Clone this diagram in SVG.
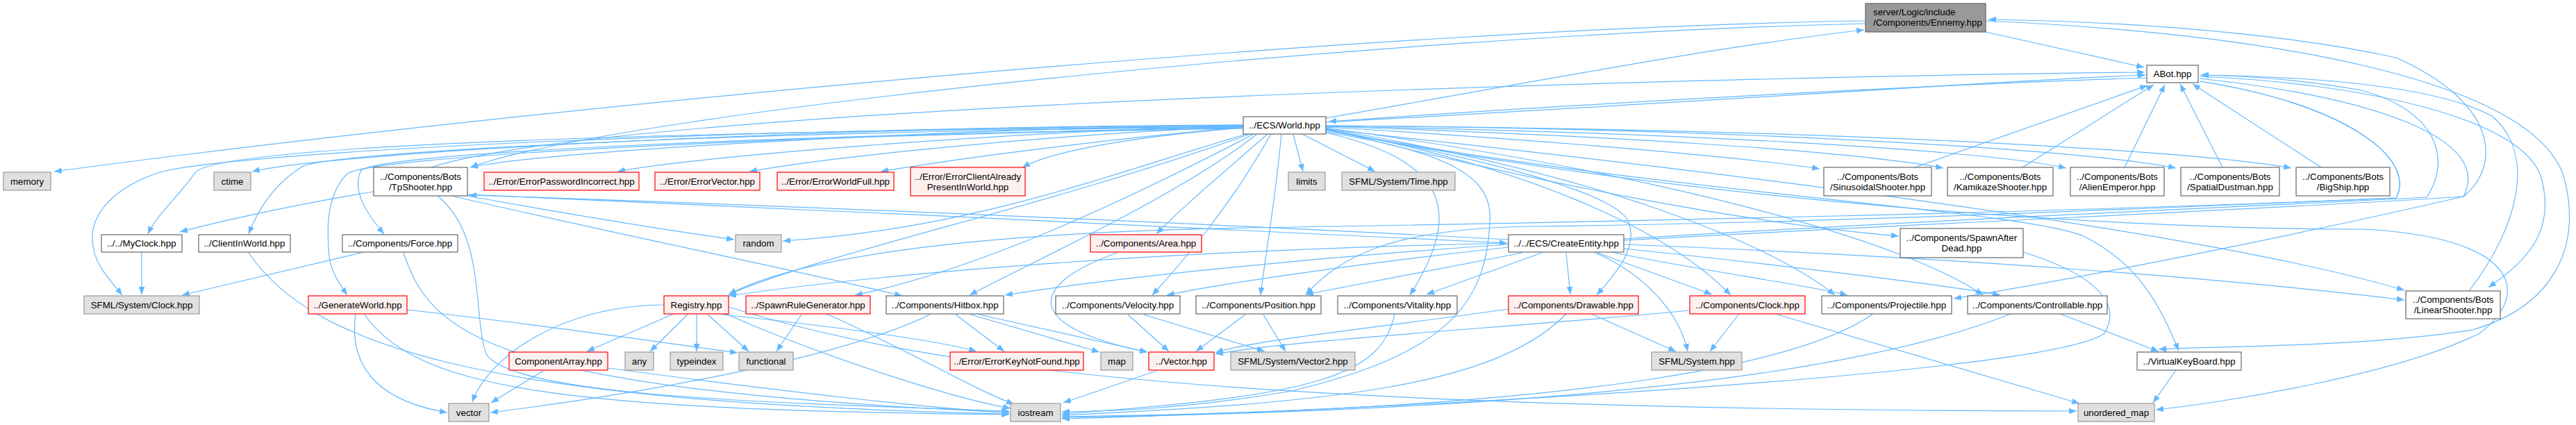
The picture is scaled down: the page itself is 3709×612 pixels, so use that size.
<svg xmlns="http://www.w3.org/2000/svg" width="3709" height="612" viewBox="0 0 3709 612">
<defs>
<marker id="ah" viewBox="0 0 10 8" refX="10" refY="4" markerWidth="11" markerHeight="9" markerUnits="userSpaceOnUse" orient="auto"><path d="M0,0 L10,4 L0,8 Z" fill="#63b8ff"/></marker>
<style>
.e path{fill:none;stroke:#63b8ff;stroke-width:1.2;marker-end:url(#ah)}
.w rect{fill:#fff;stroke:#666;stroke-width:1.2}
.g rect{fill:#e0e0e0;stroke:#999;stroke-width:1.2}
.r rect{fill:#fff0f0;stroke:#f00;stroke-width:1.2}
.root rect{fill:#999;stroke:#666;stroke-width:1.2}
text{font-family:"Liberation Sans",Arial,sans-serif;font-size:13.33px;fill:#000;text-anchor:middle}
.root text{text-anchor:start}
</style>
</defs>
<rect width="3709" height="612" fill="#fff"/>
<g id="connectors" class="e">
<path d="M2859,46 L3087,97"/>
<path d="M2686,30 C2000,40 800,150 78,247"/>
<path d="M2686,34 C2000,50 900,160 677,241"/>
<path d="M1909,170 C2200,120 2450,70 2684,43"/>
<path d="M1909,176 C2400,150 2900,115 3089,108"/>
<path d="M3091,112 C2700,125 2200,155 1913,175"/>
<path d="M2757,241 L3092,123"/>
<path d="M2912,241 L3101,122"/>
<path d="M3059,241 L3117,122"/>
<path d="M3200,241 L3139,121"/>
<path d="M3342,241 L3157,121"/>
<path d="M620,241 C900,150 2500,110 3088,104"/>
<path d="M3555,419 C3630,320 3650,220 3588,167 C3500,120 3300,110 3169,108"/>
<path d="M3167,110 C3400,120 3640,170 3660,260 C3680,340 3630,380 3583,414"/>
<path d="M2338,346 C2800,320 3300,300 3547,283 C3600,240 3600,150 3450,83 C3250,40 3000,30 2863,28"/>
<path d="M2338,344 C2800,315 3300,295 3494,284 C3530,230 3510,160 3400,130 C3300,112 3220,109 3169,108"/>
<path d="M2859,30 C3300,50 3640,120 3690,250 C3720,350 3680,440 3560,475 C3400,500 3200,498 3108,503"/>
<path d="M3167,113 C3420,140 3590,200 3547,283 C3300,340 3000,400 2813,430"/>
<path d="M3167,117 C3380,150 3480,230 3450,285 C3100,300 2600,322 2200,326 C2000,330 1930,370 1880,424"/>
<path d="M3167,117 C3380,150 3480,230 3450,285 C3000,305 2300,320 1800,328 C1400,335 1150,370 1049,424"/>
<path d="M1790,184 C1650,195 1520,215 1472,241"/>
<path d="M1790,183 C1600,200 1400,225 1268,247"/>
<path d="M1790,182 C1500,195 1200,225 1079,247"/>
<path d="M1790,181 C1450,190 1000,225 889,247"/>
<path d="M1790,180 C1400,185 800,215 677,241"/>
<path d="M1790,180 C1300,180 500,215 363,247"/>
<path d="M1790,182 C900,190 300,210 280,250 C255,285 225,310 213,337"/>
<path d="M1790,183 C1000,190 470,220 435,240 C395,265 372,300 358,337"/>
<path d="M1790,181 C1000,185 330,220 230,248 C150,275 125,320 135,360 C140,385 160,405 176,425"/>
<path d="M1790,184 C1100,195 560,220 520,245 C505,275 530,310 553,337"/>
<path d="M1790,185 C1100,195 540,225 500,250 C470,280 470,330 474,370 C478,395 490,410 500,425"/>
<path d="M1795,193 C1600,250 1400,330 1127,347"/>
<path d="M1800,193 C1500,300 1200,360 1049,424"/>
<path d="M1805,193 C1600,300 1400,390 1231,425"/>
<path d="M1810,193 C1700,280 1500,370 1396,425"/>
<path d="M1825,193 C1760,250 1700,300 1665,337"/>
<path d="M1830,193 C1770,300 1700,380 1659,425"/>
<path d="M1845,193 C1835,300 1820,380 1815,425"/>
<path d="M1862,193 L1876,247"/>
<path d="M1875,193 L1980,247"/>
<path d="M1905,190 C2080,230 2110,300 2030,425"/>
<path d="M1907,190 C2100,220 2150,260 2145,320 C2140,440 2080,510 1860,563 C1700,590 1600,592 1529,593"/>
<path d="M1907,187 C2150,230 2330,280 2345,320 C2360,360 2320,400 2299,425"/>
<path d="M1908,186 C2200,240 2400,330 2492,425"/>
<path d="M1908,185 C2300,250 2550,350 2642,425"/>
<path d="M1908,184 C2400,250 2750,350 2855,425"/>
<path d="M1908,185 C2200,260 2500,320 2734,340"/>
<path d="M1909,183 C2200,200 2500,225 2620,243"/>
<path d="M1909,182 C2300,195 2650,215 2798,242"/>
<path d="M1909,182 C2400,190 2850,215 2975,242"/>
<path d="M1909,181 C2500,185 3000,215 3133,242"/>
<path d="M1909,181 C2600,185 3150,215 3299,242"/>
<path d="M1909,186 C2600,260 3200,340 3462,418"/>
<path d="M1909,188 C2500,300 3100,330 3400,330 C3620,340 3650,420 3570,480 C3450,540 3200,580 3104,590"/>
<path d="M1909,187 C2400,280 2900,300 3000,340 C3080,380 3110,440 3137,505"/>
<path d="M538,276 C450,290 330,315 259,334"/>
<path d="M673,282 C800,305 950,330 1057,345"/>
<path d="M650,282 C900,340 1150,390 1299,426"/>
<path d="M673,280 C1100,300 1800,330 2170,350"/>
<path d="M2172,345 C1700,320 1100,295 675,281"/>
<path d="M630,282 C700,340 680,450 700,510 C740,570 1100,580 1453,592"/>
<path d="M524,363 L262,425"/>
<path d="M581,364 C620,480 700,560 1453,594"/>
<path d="M204,363 L204,424"/>
<path d="M358,364 C450,500 700,580 1453,596"/>
<path d="M512,452 C500,540 560,580 644,594"/>
<path d="M524,452 C600,560 800,590 1453,597"/>
<path d="M586,446 C800,470 1000,500 1062,508"/>
<path d="M956,439 C800,440 700,520 680,579"/>
<path d="M970,452 L845,506"/>
<path d="M990,453 L936,506"/>
<path d="M1003,453 L1003,506"/>
<path d="M1019,453 L1078,506"/>
<path d="M1040,453 C1200,470 1350,490 1406,506"/>
<path d="M1045,452 C1200,520 1380,575 1455,588"/>
<path d="M1049,442 C1300,520 1700,590 2990,592"/>
<path d="M782,534 L707,580"/>
<path d="M875,530 C1100,560 1350,590 1453,594"/>
<path d="M1154,453 L1118,506"/>
<path d="M1190,452 C1300,500 1400,560 1460,582"/>
<path d="M1376,453 L1446,506"/>
<path d="M1398,453 L1583,507"/>
<path d="M1410,453 L1652,507"/>
<path d="M1339,453 C1200,520 900,570 706,594"/>
<path d="M1608,364 C1480,410 1470,470 1652,507"/>
<path d="M1624,453 L1683,506"/>
<path d="M1647,453 L1821,506"/>
<path d="M1793,453 L1722,506"/>
<path d="M1819,453 L1851,506"/>
<path d="M1665,534 L1531,580"/>
<path d="M2008,452 C1990,540 1900,570 1529,596"/>
<path d="M2293,453 L2413,506"/>
<path d="M2255,452 C2150,560 1900,580 1529,598"/>
<path d="M2172,445 C2000,470 1800,490 1750,508"/>
<path d="M2433,447 C2200,470 1850,490 1750,510"/>
<path d="M2504,452 L2462,506"/>
<path d="M2559,453 L2994,581"/>
<path d="M2295,363 C2380,400 2420,460 2430,506"/>
<path d="M2255,364 L2261,424"/>
<path d="M2220,364 L2054,424"/>
<path d="M2192,364 L1880,424"/>
<path d="M2300,364 L2465,424"/>
<path d="M2320,363 C2450,390 2600,410 2660,425"/>
<path d="M2338,358 C2550,380 2800,410 2880,425"/>
<path d="M2172,356 C1950,380 1750,410 1680,425"/>
<path d="M2172,352 C1900,370 1600,400 1447,425"/>
<path d="M2172,350 C1700,360 1300,390 1049,426"/>
<path d="M2338,352 C2800,370 3200,400 3462,432"/>
<path d="M2697,452 C2600,520 2300,590 1529,600"/>
<path d="M2895,452 C2700,530 2300,590 1529,601"/>
<path d="M2966,452 L3108,506"/>
<path d="M2913,363 C3000,390 3060,430 3030,480 C2950,540 2000,590 1529,603"/>
<path d="M3133,533 L3100,580"/>
</g>
<g id="n_ennemy" class="root"><rect x="2686" y="5" width="173" height="41"/><text x="2697" y="22">server/Logic/include</text><text x="2697" y="37">/Components/Ennemy.hpp</text></g>
<g id="n_abot" class="w"><rect x="3091" y="94" width="74" height="25"/><text x="3128" y="111">ABot.hpp</text></g>
<g id="n_world" class="w"><rect x="1790" y="168" width="119" height="25"/><text x="1849.5" y="185">../ECS/World.hpp</text></g>
<g id="n_memory" class="g"><rect x="5" y="248" width="68" height="26"/><text x="39" y="265.5">memory</text></g>
<g id="n_ctime" class="g"><rect x="308" y="248" width="53" height="26"/><text x="334.5" y="265.5">ctime</text></g>
<g id="n_tpshooter" class="w"><rect x="538" y="241" width="135" height="41"/><text x="605.5" y="258.5">../Components/Bots</text><text x="605.5" y="273.5">/TpShooter.hpp</text></g>
<g id="n_errpwd" class="r"><rect x="697" y="248" width="223" height="26"/><text x="808.5" y="265.5">../Error/ErrorPasswordIncorrect.hpp</text></g>
<g id="n_errvec" class="r"><rect x="943" y="248" width="151" height="26"/><text x="1018.5" y="265.5">../Error/ErrorVector.hpp</text></g>
<g id="n_errfull" class="r"><rect x="1119" y="248" width="168" height="26"/><text x="1203" y="265.5">../Error/ErrorWorldFull.hpp</text></g>
<g id="n_errclient" class="r"><rect x="1311" y="241" width="165" height="41"/><text x="1393.5" y="258.5">../Error/ErrorClientAlready</text><text x="1393.5" y="273.5">PresentInWorld.hpp</text></g>
<g id="n_limits" class="g"><rect x="1855" y="248" width="53" height="26"/><text x="1881.5" y="265.5">limits</text></g>
<g id="n_sfmltime" class="g"><rect x="1932" y="248" width="163" height="26"/><text x="2013.5" y="265.5">SFML/System/Time.hpp</text></g>
<g id="n_sinus" class="w"><rect x="2626" y="241" width="155" height="41"/><text x="2703.5" y="258.5">../Components/Bots</text><text x="2703.5" y="273.5">/SinusoidalShooter.hpp</text></g>
<g id="n_kamikaze" class="w"><rect x="2804" y="241" width="152" height="41"/><text x="2880" y="258.5">../Components/Bots</text><text x="2880" y="273.5">/KamikazeShooter.hpp</text></g>
<g id="n_alien" class="w"><rect x="2981" y="241" width="135" height="41"/><text x="3048.5" y="258.5">../Components/Bots</text><text x="3048.5" y="273.5">/AlienEmperor.hpp</text></g>
<g id="n_spatial" class="w"><rect x="3140" y="241" width="142" height="41"/><text x="3211" y="258.5">../Components/Bots</text><text x="3211" y="273.5">/SpatialDustman.hpp</text></g>
<g id="n_bigship" class="w"><rect x="3306" y="241" width="135" height="41"/><text x="3373.5" y="258.5">../Components/Bots</text><text x="3373.5" y="273.5">/BigShip.hpp</text></g>
<g id="n_myclock" class="w"><rect x="146" y="338" width="116" height="25"/><text x="204" y="355">../../MyClock.hpp</text></g>
<g id="n_clientinworld" class="w"><rect x="286" y="338" width="132" height="25"/><text x="352" y="355">../ClientInWorld.hpp</text></g>
<g id="n_force" class="w"><rect x="493" y="338" width="166" height="25"/><text x="576" y="355">../Components/Force.hpp</text></g>
<g id="n_random" class="g"><rect x="1059" y="338" width="66" height="25"/><text x="1092" y="355">random</text></g>
<g id="n_area" class="r"><rect x="1570" y="338" width="160" height="25"/><text x="1650" y="355">../Components/Area.hpp</text></g>
<g id="n_createentity" class="w"><rect x="2172" y="338" width="166" height="25"/><text x="2255" y="355">../../ECS/CreateEntity.hpp</text></g>
<g id="n_spawnafterdead" class="w"><rect x="2736" y="329" width="177" height="42"/><text x="2824.5" y="347">../Components/SpawnAfter</text><text x="2824.5" y="362">Dead.hpp</text></g>
<g id="n_sfmlclock" class="g"><rect x="121" y="426" width="166" height="26"/><text x="204" y="443.5">SFML/System/Clock.hpp</text></g>
<g id="n_generateworld" class="r"><rect x="444" y="426" width="142" height="26"/><text x="515" y="443.5">../GenerateWorld.hpp</text></g>
<g id="n_registry" class="r"><rect x="956" y="426" width="93" height="26"/><text x="1002.5" y="443.5">Registry.hpp</text></g>
<g id="n_spawnrulegen" class="r"><rect x="1074" y="426" width="179" height="26"/><text x="1163.5" y="443.5">../SpawnRuleGenerator.hpp</text></g>
<g id="n_hitbox" class="w"><rect x="1276" y="426" width="169" height="26"/><text x="1360.5" y="443.5">../Components/Hitbox.hpp</text></g>
<g id="n_velocity" class="w"><rect x="1520" y="426" width="179" height="26"/><text x="1609.5" y="443.5">../Components/Velocity.hpp</text></g>
<g id="n_position" class="w"><rect x="1722" y="426" width="180" height="26"/><text x="1812" y="443.5">../Components/Position.hpp</text></g>
<g id="n_vitality" class="w"><rect x="1926" y="426" width="172" height="26"/><text x="2012" y="443.5">../Components/Vitality.hpp</text></g>
<g id="n_drawable" class="r"><rect x="2172" y="426" width="187" height="26"/><text x="2265.5" y="443.5">../Components/Drawable.hpp</text></g>
<g id="n_clock" class="r"><rect x="2433" y="426" width="166" height="26"/><text x="2516" y="443.5">../Components/Clock.hpp</text></g>
<g id="n_projectile" class="w"><rect x="2623" y="426" width="187" height="26"/><text x="2716.5" y="443.5">../Components/Projectile.hpp</text></g>
<g id="n_controllable" class="w"><rect x="2833" y="426" width="201" height="26"/><text x="2933.5" y="443.5">../Components/Controllable.hpp</text></g>
<g id="n_linearshooter" class="w"><rect x="3464" y="419" width="136" height="40"/><text x="3532" y="436">../Components/Bots</text><text x="3532" y="451">/LinearShooter.hpp</text></g>
<g id="n_componentarray" class="r"><rect x="733" y="507" width="142" height="26"/><text x="804" y="524.5">ComponentArray.hpp</text></g>
<g id="n_any" class="g"><rect x="900" y="507" width="41" height="26"/><text x="920.5" y="524.5">any</text></g>
<g id="n_typeindex" class="g"><rect x="965" y="507" width="76" height="26"/><text x="1003" y="524.5">typeindex</text></g>
<g id="n_functional" class="g"><rect x="1064" y="507" width="78" height="26"/><text x="1103" y="524.5">functional</text></g>
<g id="n_errkey" class="r"><rect x="1368" y="507" width="192" height="26"/><text x="1464" y="524.5">../Error/ErrorKeyNotFound.hpp</text></g>
<g id="n_map" class="g"><rect x="1585" y="507" width="46" height="26"/><text x="1608" y="524.5">map</text></g>
<g id="n_vectorhpp" class="r"><rect x="1654" y="507" width="94" height="26"/><text x="1701" y="524.5">../Vector.hpp</text></g>
<g id="n_sfmlvector2" class="g"><rect x="1772" y="507" width="179" height="26"/><text x="1861.5" y="524.5">SFML/System/Vector2.hpp</text></g>
<g id="n_sfmlsystem" class="g"><rect x="2378" y="507" width="130" height="26"/><text x="2443" y="524.5">SFML/System.hpp</text></g>
<g id="n_virtualkeyboard" class="w"><rect x="3077" y="507" width="150" height="26"/><text x="3152" y="524.5">../VirtualKeyBoard.hpp</text></g>
<g id="n_vector" class="g"><rect x="646" y="581" width="58" height="26"/><text x="675" y="598.5">vector</text></g>
<g id="n_iostream" class="g"><rect x="1455" y="581" width="72" height="26"/><text x="1491" y="598.5">iostream</text></g>
<g id="n_unorderedmap" class="g"><rect x="2992" y="581" width="110" height="26"/><text x="3047" y="598.5">unordered_map</text></g>
</svg>
